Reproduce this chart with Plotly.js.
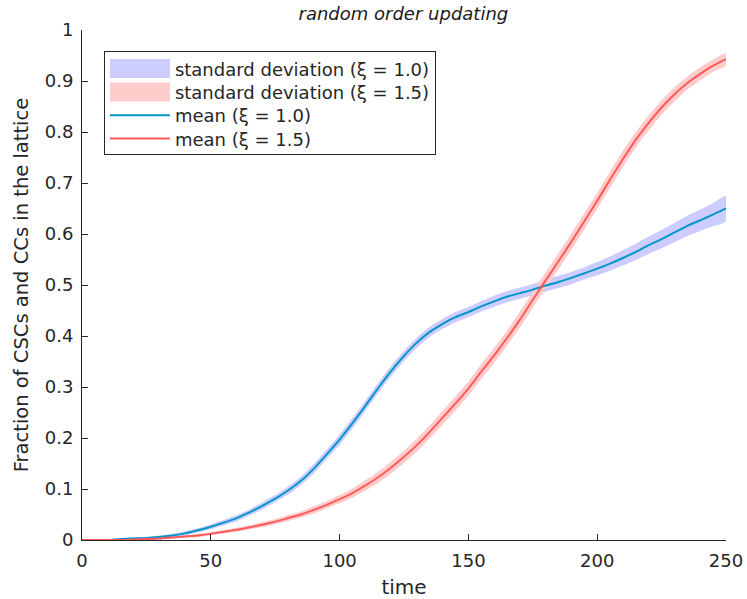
<!DOCTYPE html>
<html>
<head>
<meta charset="utf-8">
<script src="https://cdn.plot.ly/plotly-3.0.1.min.js"></script>
<style>html,body{margin:0;padding:0;background:#fff;}#chart{width:747px;height:599px;}</style>
</head>
<body>
<div id="chart"></div>
<script>
// time grid
const time = [0,5,10,15,20,25,30,35,40,45,50,55,60,65,70,75,80,85,90,95,100,105,110,115,120,125,130,135,140,145,150,155,160,165,170,175,180,185,190,195,200,205,210,215,220,225,230,235,240,245,250];
// mean, xi = 1.0
const mean10 = [0,0,0,0.002,0.003,0.004,0.006,0.009,0.013,0.019,0.026,0.034,0.043,0.054,0.067,0.081,0.097,0.116,0.14,0.168,0.197,0.229,0.263,0.298,0.331,0.361,0.387,0.408,0.424,0.437,0.447,0.458,0.468,0.477,0.484,0.491,0.499,0.506,0.514,0.523,0.532,0.542,0.553,0.565,0.578,0.59,0.603,0.616,0.627,0.638,0.65];
// standard deviation, xi = 1.0
const sd10 = [0,0,0,0.001,0.002,0.002,0.003,0.003,0.004,0.004,0.005,0.005,0.006,0.006,0.007,0.007,0.008,0.008,0.009,0.009,0.01,0.01,0.01,0.01,0.01,0.01,0.01,0.01,0.01,0.01,0.01,0.01,0.011,0.011,0.011,0.011,0.012,0.012,0.012,0.012,0.013,0.014,0.015,0.016,0.017,0.018,0.019,0.02,0.021,0.023,0.025];
// mean, xi = 1.5
const mean15 = [0,0,0,0,0.001,0.002,0.003,0.005,0.007,0.009,0.012,0.016,0.02,0.025,0.03,0.036,0.043,0.05,0.059,0.069,0.08,0.092,0.107,0.123,0.142,0.163,0.186,0.212,0.24,0.268,0.297,0.33,0.362,0.396,0.432,0.471,0.509,0.547,0.585,0.625,0.665,0.707,0.747,0.785,0.818,0.848,0.874,0.896,0.914,0.93,0.943];
// standard deviation, xi = 1.5
const sd15 = [0,0,0,0,0.001,0.001,0.002,0.002,0.002,0.003,0.003,0.003,0.004,0.004,0.005,0.005,0.006,0.006,0.007,0.007,0.008,0.009,0.01,0.011,0.012,0.012,0.013,0.013,0.014,0.014,0.014,0.015,0.015,0.015,0.016,0.016,0.016,0.016,0.016,0.016,0.016,0.016,0.016,0.015,0.015,0.014,0.014,0.013,0.013,0.012,0.012];

const labels = ['standard deviation (ξ = 1.0)','standard deviation (ξ = 1.5)','mean (ξ = 1.0)','mean (ξ = 1.5)'];

function band(mean, sd){
  const up = mean.map((m,i)=>m+sd[i]);
  const lo = mean.map((m,i)=>Math.max(0,m-sd[i]));
  return {x: time.concat(time.slice().reverse()), y: up.concat(lo.slice().reverse())};
}
const b10 = band(mean10, sd10), b15 = band(mean15, sd15);

const traces = [
  {x:b10.x, y:b10.y, fill:'toself', fillcolor:'rgb(204,204,255)', line:{width:0, shape:'spline', smoothing:0.6}, mode:'lines', name:labels[0], hoverinfo:'skip'},
  {x:b15.x, y:b15.y, fill:'toself', fillcolor:'rgb(255,204,204)', line:{width:0, shape:'spline', smoothing:0.6}, mode:'lines', name:labels[1], hoverinfo:'skip'},
  {x:time, y:mean10, mode:'lines', line:{color:'rgb(0,150,200)', width:2, shape:'spline', smoothing:0.6}, name:labels[2]},
  {x:time, y:mean15, mode:'lines', line:{color:'rgb(255,90,90)', width:2, shape:'spline', smoothing:0.6}, name:labels[3]}
];

const font = "DejaVu Sans, sans-serif";
const layout = {
  width:747, height:599,
  margin:{l:82, r:21, t:30, b:59},
  paper_bgcolor:'#fff', plot_bgcolor:'#fff',
  font:{family:font, color:'#262626', size:18},
  title:{text:'<i>random order updating</i>', font:{family:font, size:18, color:'#1a1a1a'}, x:0.54, xanchor:'center', y:0.977, yanchor:'middle'},
  xaxis:{range:[0,250], tickvals:[0,50,100,150,200,250], ticks:'inside', ticklen:6, tickcolor:'#262626',
    showline:true, linecolor:'#262626', linewidth:1, showgrid:false, zeroline:false, mirror:false,
    tickfont:{size:18, color:'#262626'}, ticklabelstandoff:4,
    title:{text:'time', font:{size:20, color:'#262626'}, standoff:12}},
  yaxis:{range:[0,1], tickvals:[0,0.1,0.2,0.3,0.4,0.5,0.6,0.7,0.8,0.9,1], ticktext:['0','0.1','0.2','0.3','0.4','0.5','0.6','0.7','0.8','0.9','1'],
    ticks:'inside', ticklen:6, tickcolor:'#262626',
    showline:true, linecolor:'#262626', linewidth:1, showgrid:false, zeroline:false, mirror:false,
    tickfont:{size:18, color:'#262626'}, ticklabelstandoff:4,
    title:{text:'Fraction of CSCs and CCs in the lattice', font:{size:19.5, color:'#262626'}, standoff:10}},
  showlegend:true,
  legend:{x:0.034, y:0.959, xanchor:'left', yanchor:'top', bgcolor:'#fff', bordercolor:'#262626', borderwidth:1,
    font:{size:18, color:'#262626'}, itemwidth:60, tracegroupgap:0, traceorder:'normal'}
};

Plotly.newPlot('chart', traces, layout, {staticPlot:true}).then(function(gd){
  const items = Array.from(gd.querySelectorAll('.legend .traces'));
  items.forEach(function(tr){
    const p = tr.querySelector('.legendfill path');
    if(p){
      const bb = p.getBBox();
      const x0 = bb.width > 0 ? bb.x : 5;
      const w = bb.width > 0 ? bb.width : 60;
      p.setAttribute('d', 'M' + x0 + ',-9.5h' + w + 'v19h' + (-w) + 'z');
    }
  });
  // tighten legend row spacing
  const parse = function(el){
    const m = /translate\(\s*([-\d.]+)[ ,]+([-\d.]+)\s*\)/.exec(el.getAttribute('transform') || '');
    return m ? [parseFloat(m[1]), parseFloat(m[2])] : null;
  };
  if(items.length > 1){
    const t0 = parse(items[0]);
    const tl = parse(items[items.length-1]);
    if(t0 && tl){
      const step = 23.3;
      const lift = 1.5;
      items.forEach(function(tr, i){
        const t = parse(tr);
        if(t) tr.setAttribute('transform', 'translate(' + t[0] + ',' + (t0[1] - lift + i*step) + ')');
      });
      const shrink = (tl[1] - t0[1]) - step*(items.length-1) + 5;
      const bg = gd.querySelector('.legend rect.bg');
      if(bg && shrink > 0){
        bg.setAttribute('height', parseFloat(bg.getAttribute('height')) - shrink);
      }
    }
  }
});
</script>
</body>
</html>
